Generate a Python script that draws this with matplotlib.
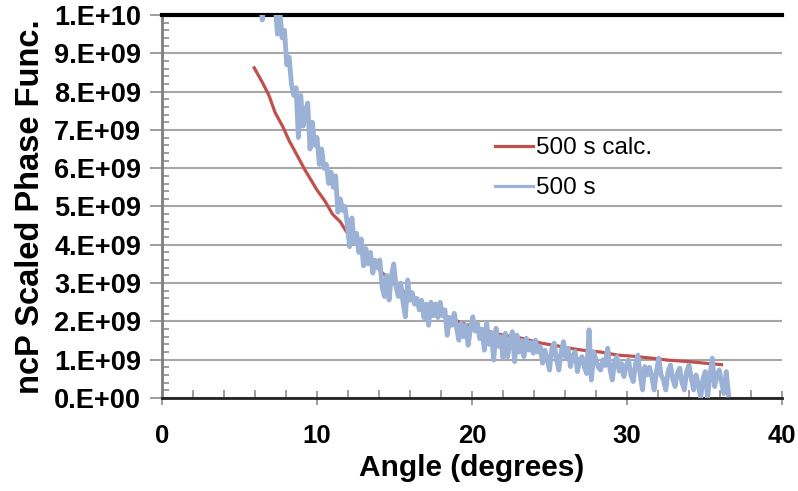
import math
import matplotlib
matplotlib.use("Agg")
import matplotlib.pyplot as plt
from matplotlib.ticker import MultipleLocator, FuncFormatter

# ---- data (values in units of 1e9) ----
calc_angle = [5.95, 6.5, 6.9, 7.3, 7.8, 8.2, 8.5, 9.2, 10.0, 10.5, 11.0, 11.5, 11.9,
              12.5, 13.2, 14.4, 15.5, 16.9, 18.6, 19.4, 20.5, 22.0, 23.2, 24.5, 25.8,
              26.6, 27.3, 28.3, 29.4, 30.4, 31.6, 32.6, 34.0, 35.0, 36.1]
calc_value = [8.62, 8.22, 7.9, 7.45, 7.08, 6.72, 6.5, 5.97, 5.43, 5.15, 4.8, 4.6, 4.34,
              4.05, 3.7, 3.19, 2.8, 2.43, 2.08, 1.95, 1.8, 1.64, 1.56, 1.43, 1.34,
              1.28, 1.24, 1.2, 1.12, 1.09, 1.04, 0.99, 0.95, 0.91, 0.87]

meas_angle = [6.30, 6.47, 6.60, 7.15,
              7.30, 7.45, 7.60, 7.75, 7.90, 8.05, 8.20, 8.35, 8.50, 8.65,
              8.80, 8.95, 9.10, 9.25, 9.40, 9.55, 9.70, 9.85, 10.00, 10.15,
              10.30, 10.45, 10.60, 10.75, 10.90, 11.05, 11.20, 11.35, 11.50, 11.65,
              11.80, 11.95, 12.10, 12.25, 12.40, 12.55, 12.70, 12.85, 13.00, 13.15,
              13.30, 13.45, 13.60, 13.75, 13.90, 14.05, 14.20, 14.35, 14.50, 14.65,
              14.80, 14.95, 15.10, 15.25, 15.40, 15.55, 15.70, 15.85, 16.00, 16.15,
              16.30, 16.45, 16.60, 16.75, 16.90, 17.05, 17.20, 17.35, 17.50, 17.65,
              17.80, 17.95, 18.10, 18.25, 18.40, 18.55, 18.70, 18.85, 19.00, 19.15,
              19.30, 19.45, 19.60, 19.75, 19.90, 20.05, 20.20, 20.35, 20.50, 20.65,
              20.80, 20.95, 21.10, 21.25, 21.40, 21.55, 21.70, 21.85, 22.00, 22.15,
              22.30, 22.45, 22.60, 22.75, 22.90, 23.05, 23.20, 23.35, 23.50, 23.65,
              23.80, 23.95, 24.10, 24.25, 24.40, 24.55, 24.70, 24.85, 25.00, 25.15,
              25.30, 25.45, 25.60, 25.75, 25.90, 26.05, 26.20, 26.35, 26.50, 26.65,
              26.80, 26.95, 27.10, 27.25, 27.40, 27.55, 27.70, 27.85, 28.00, 28.15,
              28.30, 28.45, 28.60, 28.75, 28.90, 29.05, 29.20, 29.35, 29.50, 29.65,
              29.80, 29.95, 30.10, 30.25, 30.40, 30.55, 30.70, 30.85, 31.00, 31.15,
              31.30, 31.45, 31.60, 31.75, 31.90, 32.05, 32.20, 32.35, 32.50, 32.65,
              32.80, 32.95, 33.10, 33.25, 33.40, 33.55, 33.70, 33.85, 34.00, 34.15,
              34.30, 34.45, 34.60, 34.75, 34.90, 35.05, 35.20, 35.35, 35.50, 35.65,
              35.80, 35.95, 36.10, 36.25, 36.40, 36.55]
meas_value = [10.6, 9.87, 10.5, 10.8,
              10.3, 9.5, 10.1, 9.4, 9.6, 8.7, 8.9, 8.2, 7.9, 8.1,
              6.8, 7.9, 7.1, 7.5, 7.7, 6.5, 7.2, 6.6, 6.8, 6.1,
              6.5, 6.0, 6.1, 5.6, 5.9, 5.5, 5.8, 4.85, 5.2, 4.9,
              5.0, 4.55, 3.95, 4.7, 4.05, 4.3, 3.8, 4.15, 3.45, 3.9,
              3.5, 3.8, 3.26, 3.6, 3.4, 3.6, 2.9, 2.65, 3.2, 2.56,
              3.2, 3.5, 2.9, 2.65, 3.0, 2.5, 2.12, 3.08, 2.55, 2.75,
              2.45, 2.6, 2.3, 2.55, 2.1, 2.45, 1.9, 2.5, 2.15, 2.45,
              2.1, 2.5, 2.15, 2.3, 1.64, 2.1, 1.9, 2.21, 1.85, 1.51,
              1.95, 1.6, 1.9, 1.38, 1.8, 2.12, 1.75, 1.95, 1.55, 1.8,
              1.25, 1.95, 1.4, 1.7, 0.99, 1.82, 1.35, 1.6, 1.04, 1.69,
              1.08, 1.5, 1.73, 0.95, 1.64, 1.2, 1.5, 1.08, 1.56, 1.25,
              1.45, 1.17, 1.51, 1.2, 1.35, 0.91, 1.25, 1.0, 0.73, 1.3,
              1.43, 1.0, 0.73, 1.2, 1.47, 1.05, 1.3, 0.82, 1.1, 1.21,
              0.69, 1.0, 1.08, 0.8, 0.64, 1.78, 0.47, 1.2, 0.99, 0.8,
              0.73, 1.0, 0.85, 1.30, 0.75, 0.47, 0.95, 1.08, 0.7, 0.9,
              0.56, 0.85, 0.99, 0.6, 0.43, 0.9, 1.12, 0.6, 0.21, 0.82,
              0.6, 0.8, 0.56, 0.21, 0.7, 1.04, 0.6, 0.47, 0.21, 0.7,
              0.86, 0.5, 0.30, 0.65, 0.78, 0.4, 0.21, 0.7, 0.86, 0.5,
              0.21, 0.6, 0.35, 0.0, 0.5, 0.69, 0.0, 0.6, 1.04, 0.30,
              0.6, 0.73, 0.4, 0.12, 0.69, 0.08]

x_ticks = [0, 10, 20, 30, 40]
scale = 1e9

plt.rcParams['font.family'] = ['Liberation Sans', 'DejaVu Sans']

fig = plt.figure(figsize=(7.98, 4.91), dpi=100)
ax = fig.add_axes([0.203, 0.1894, 0.777, 0.7801])

red = '#C0504D'
blue = '#9BB2D6'

ax.plot(calc_angle, [v * scale for v in calc_value], color=red, lw=2.3,
        label='500 s calc.', zorder=3)
line_b, = ax.plot(meas_angle, [v * scale for v in meas_value], color=blue, lw=3.5,
                  label='500 s', zorder=4)

ax.set_xlim(0, 40)
ax.set_ylim(0, 1e10)
ax.set_xticks(x_ticks)
ax.xaxis.set_minor_locator(MultipleLocator(2))
ax.yaxis.set_major_locator(MultipleLocator(1e9))
ax.yaxis.set_minor_locator(MultipleLocator(2e8))


def yfmt(v, pos):
    if v == 0:
        return '0.E+00'
    exp = int(math.floor(math.log10(abs(v)) + 1e-9))
    mant = v / 10 ** exp
    return f'{int(round(mant))}.E+{exp:02d}'


ax.yaxis.set_major_formatter(FuncFormatter(yfmt))

ax.grid(axis='y', which='major', color='#A6A6A6', lw=1.5, zorder=0)
ax.set_axisbelow(True)

for lab in ax.get_xticklabels():
    lab.set_fontweight('bold')
    lab.set_fontsize(18.5)
for lab in ax.get_yticklabels():
    lab.set_fontweight('bold')
    lab.set_fontsize(19.5)

ax.tick_params(axis='x', which='major', direction='inout', length=10, width=1.2,
               color='#8C8C8C', pad=14)
ax.tick_params(axis='x', which='minor', direction='in', length=6, width=1.2,
               color='#8C8C8C')
ax.tick_params(axis='y', which='major', direction='out', length=9, width=1.2,
               color='#8C8C8C', pad=6)
ax.tick_params(axis='y', which='minor', direction='in', length=5, width=1.2,
               color='#8C8C8C')

ax.spines['right'].set_visible(False)
ax.spines['top'].set_color('black')
ax.spines['top'].set_linewidth(3)
ax.spines['bottom'].set_color('#222222')
ax.spines['bottom'].set_linewidth(2)
ax.spines['left'].set_color('#7F7F7F')
ax.spines['left'].set_linewidth(2)

ax.set_xlabel('Angle (degrees)', fontsize=21.5, fontweight='bold', labelpad=4)
ax.set_ylabel('ncP Scaled Phase Func.', fontsize=23.5, fontweight='bold', labelpad=6)

leg = ax.legend(loc='center left', bbox_to_anchor=(0.537, 0.60), frameon=False,
                fontsize=17.5, handlelength=1.55, handletextpad=0.15, labelspacing=0.75,
                borderaxespad=0, borderpad=0)
for h in leg.get_lines():
    h.set_linewidth(2.3)

fig.savefig('out.png', dpi=100)
